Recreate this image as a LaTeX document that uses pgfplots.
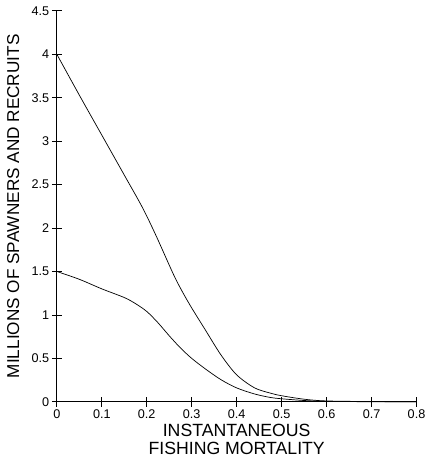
\documentclass[border=0pt]{standalone}
\usepackage{fontspec}
\setmainfont{Liberation Sans}
\usepackage{pgfplots}
\pgfplotsset{compat=1.18}
\begin{document}
\begin{tikzpicture}
\begin{axis}[
  scale only axis,
  width=356bp, height=387bp,
  xmin=0, xmax=0.8, ymin=0, ymax=4.5,
  axis x line=bottom, axis y line=left,
  axis line style={-, line width=1pt},
  tick align=center, major tick length=10bp,
  tick style={black, line width=0.8pt},
  xtick={0,0.1,0.2,0.3,0.4,0.5,0.6,0.7,0.8},
  ytick={0,0.5,1,1.5,2,2.5,3,3.5,4,4.5},
  xticklabels={0,0.1,0.2,0.3,0.4,0.5,0.6,0.7,0.8},
  yticklabels={0,0.5,1,1.5,2,2.5,3,3.5,4,4.5},
  tick label style={font=\fontsize{12.5bp}{14bp}\selectfont},
  xticklabel style={yshift=1bp},
  yticklabel style={xshift=1bp},
  xlabel={INSTANTANEOUS\\FISHING MORTALITY},
  ylabel={MILLIONS OF SPAWNERS AND RECRUITS},
  xlabel style={at={(axis description cs:0.5,0)}, anchor=north, yshift=-22bp, align=center, inner sep=0pt, font=\fontsize{17.5bp}{18bp}\selectfont},
  ylabel style={at={([xshift=-37bp]axis description cs:0,0.5)}, anchor=south, inner sep=0pt, font=\fontsize{17bp}{18bp}\selectfont},
  clip=false,
]
\addplot[black, line width=0.7pt, smooth, tension=0.5] coordinates {
(0,4.0) (0.05,3.53) (0.1,3.07) (0.15,2.61) (0.19,2.24) (0.22,1.92) (0.26,1.46)
(0.28,1.26) (0.3,1.08) (0.33,0.83) (0.365,0.54) (0.4,0.31) (0.44,0.16) (0.475,0.10) (0.5,0.07)
(0.55,0.03) (0.6,0.01) (0.7,0.003) (0.8,0)
};
\addplot[black, line width=0.7pt, smooth, tension=0.5] coordinates {
(0,1.5) (0.05,1.41) (0.1,1.3) (0.15,1.2) (0.175,1.13) (0.2,1.04) (0.225,0.91) (0.25,0.76)
(0.275,0.62) (0.3,0.5) (0.33,0.38) (0.365,0.255) (0.4,0.16) (0.44,0.09)
(0.475,0.05) (0.5,0.035) (0.55,0.015) (0.6,0.005) (0.7,0.001) (0.8,0)
};
\end{axis}
\path ([shift={(-7bp,-5bp)}]current bounding box.south west) rectangle ([shift={(1bp,3bp)}]current bounding box.north east);
\end{tikzpicture}
\end{document}
